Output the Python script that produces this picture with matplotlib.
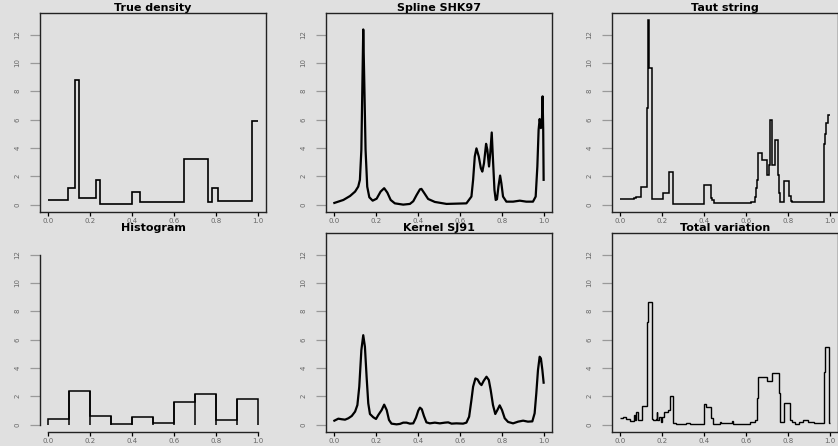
import numpy as np
import matplotlib
matplotlib.use('Agg')
import matplotlib.pyplot as plt

# ---- data ----
titles = ['True density', 'Spline SHK97', 'Taut string',
          'Histogram', 'Kernel SJ91', 'Total variation']

# true density: step function (edges, heights)
true_edges = [0.0, 0.096, 0.128, 0.147, 0.226, 0.249, 0.399, 0.439,
              0.648, 0.761, 0.780, 0.812, 0.973, 1.0]
true_vals = [0.33, 1.16, 8.82, 0.45, 1.77, 0.02, 0.87, 0.17,
             3.2, 0.17, 1.16, 0.24, 5.9]

# spline estimate
spl_x = [0.0, 0.043, 0.075, 0.099, 0.114, 0.122, 0.129, 0.134, 0.138, 0.143,
         0.149, 0.157, 0.167, 0.183, 0.202, 0.221, 0.238, 0.253, 0.269, 0.289,
         0.329, 0.361, 0.377, 0.393, 0.409, 0.416, 0.428, 0.448, 0.48, 0.536,
         0.631, 0.655, 0.663, 0.671, 0.679, 0.69, 0.70, 0.707, 0.715, 0.725,
         0.731, 0.739, 0.745, 0.752, 0.758, 0.765, 0.771, 0.777, 0.784, 0.792,
         0.798, 0.806, 0.822, 0.854, 0.886, 0.917, 0.949, 0.962, 0.970, 0.976,
         0.981, 0.987, 0.992, 0.995, 0.998, 1.0]
spl_y = [0.12, 0.33, 0.61, 0.92, 1.27, 1.75, 3.87, 8.6, 12.36, 8.6,
         3.9, 1.27, 0.52, 0.28, 0.42, 0.92, 1.16, 0.85, 0.33, 0.09,
         0.0, 0.05, 0.24, 0.68, 1.08, 1.11, 0.85, 0.4, 0.19, 0.05,
         0.09, 0.57, 1.75, 3.4, 3.97, 3.4, 2.57, 2.33, 2.92, 4.29,
         3.87, 2.69, 3.63, 5.09, 3.16, 1.04, 0.33, 0.38, 1.27, 2.05,
         1.51, 0.57, 0.21, 0.21, 0.28, 0.21, 0.21, 0.57, 2.69, 5.28,
         6.04, 5.4, 6.0, 7.64, 5.28, 1.75]

# taut string: step function
taut_edges = [0.0, 0.064, 0.077, 0.097, 0.128, 0.131, 0.134, 0.1375, 0.144,
              0.149, 0.152, 0.206, 0.212, 0.232, 0.252, 0.399, 0.402, 0.431,
              0.437, 0.447, 0.623, 0.641, 0.649, 0.653, 0.658, 0.679, 0.70,
              0.711, 0.717, 0.724, 0.740, 0.751, 0.757, 0.762, 0.783, 0.808,
              0.814, 0.820, 0.971, 0.976, 0.984, 0.990, 1.0]
taut_vals = [0.38, 0.5, 0.57, 1.23, 6.8, 9.65, 13.0, 9.65, 9.65,
             1.32, 0.38, 0.8, 0.85, 2.33, 0.07, 0.45, 1.39,
             0.47, 0.33, 0.12, 0.21, 0.57, 1.16, 1.75, 3.63, 3.16,
             2.1, 2.81, 5.94, 2.81, 4.58, 2.1, 0.85, 0.21, 1.67,
             0.61, 0.28, 0.19, 4.29, 4.98, 5.75, 6.34]

# histogram (bin width 0.1)
hist_edges = [0.0, 0.1, 0.2, 0.3, 0.4, 0.5, 0.6, 0.7, 0.8, 0.9, 1.0]
hist_vals = [0.42, 2.36, 0.64, 0.07, 0.54, 0.14, 1.63, 2.19, 0.33, 1.82]

# kernel estimate
ker_x = [0.0, 0.019, 0.035, 0.051, 0.067, 0.083, 0.099, 0.11, 0.119, 0.129,
         0.138, 0.146, 0.154, 0.162, 0.17, 0.186, 0.199, 0.21, 0.226, 0.238,
         0.25, 0.261, 0.273, 0.297, 0.313, 0.329, 0.345, 0.361, 0.377, 0.39,
         0.401, 0.409, 0.418, 0.428, 0.44, 0.456, 0.48, 0.504, 0.528, 0.544,
         0.56, 0.583, 0.615, 0.631, 0.644, 0.655, 0.663, 0.674, 0.684, 0.695,
         0.703, 0.714, 0.727, 0.738, 0.747, 0.758, 0.769, 0.779, 0.79, 0.801,
         0.814, 0.83, 0.854, 0.878, 0.902, 0.925, 0.946, 0.957, 0.965, 0.973,
         0.981, 0.987, 0.994, 1.0]
ker_y = [0.28, 0.42, 0.38, 0.35, 0.45, 0.61, 0.92, 1.38, 2.68, 5.26,
         6.31, 5.49, 3.38, 1.5, 0.75, 0.52, 0.4, 0.68, 1.03, 1.41,
         1.03, 0.33, 0.07, 0.02, 0.05, 0.14, 0.14, 0.07, 0.09, 0.49,
         0.99, 1.2, 1.08, 0.61, 0.16, 0.09, 0.14, 0.09, 0.14, 0.16,
         0.07, 0.09, 0.07, 0.14, 0.56, 1.74, 2.68, 3.26, 3.19, 2.91,
         2.79, 3.1, 3.38, 3.15, 2.44, 1.38, 0.75, 1.03, 1.36, 1.03,
         0.45, 0.19, 0.09, 0.21, 0.28, 0.21, 0.23, 0.8, 2.21, 3.85,
         4.79, 4.67, 3.85, 2.96]

# total variation: step function
tv_edges = [0.0, 0.013, 0.029, 0.045, 0.064, 0.069, 0.077, 0.085, 0.101,
            0.128, 0.133, 0.152, 0.157, 0.168, 0.173, 0.177, 0.184, 0.193,
            0.201, 0.208, 0.228, 0.236, 0.252, 0.268, 0.316, 0.332, 0.364,
            0.399, 0.409, 0.435, 0.444, 0.476, 0.479, 0.532, 0.537, 0.620,
            0.644, 0.652, 0.656, 0.701, 0.724, 0.756, 0.761, 0.764, 0.783,
            0.812, 0.820, 0.836, 0.852, 0.875, 0.899, 0.923, 0.955, 0.971,
            0.976, 0.982, 0.998, 1.002]
tv_vals = [0.45, 0.52, 0.42, 0.28, 0.68, 0.33, 0.87, 0.33,
           1.34, 7.25, 8.62, 0.38, 0.33, 0.38, 0.92, 0.33, 0.56,
           0.19, 0.56, 0.89, 1.03, 2.02, 0.09, 0.02, 0.14, 0.07,
           0.07, 1.43, 1.27, 0.49, 0.07, 0.19, 0.09, 0.26, 0.07,
           0.16, 0.33, 1.85, 3.38, 3.1, 3.66, 2.21, 0.56, 0.16,
           1.55, 0.33, 0.19, 0.07, 0.16, 0.33, 0.21, 0.14, 0.09,
           3.73, 5.45, 5.5, 0.14]

xticks = [0.0, 0.2, 0.4, 0.6, 0.8, 1.0]
xticklabels = ['0.0', '0.2', '0.4', '0.6', '0.8', '1.0']
yticks = [0, 2, 4, 6, 8, 10, 12]

bg = '#e0e0e0'
W, H = 838, 446
fig = plt.figure(figsize=(W / 100, H / 100), dpi=100, facecolor=bg)

axes = []
for r in range(2):
    for c in range(3):
        left = 40 + 286 * c
        top = 13 + 220 * r
        ax = fig.add_axes([left / W, 1 - (top + 199) / H, 226 / W, 199 / H])
        ax.set_facecolor(bg)
        ax.set_xlim(-0.04, 1.04)
        ax.set_ylim(-0.52, 13.52)
        ax.set_xticks(xticks)
        ax.set_xticklabels(xticklabels)
        ax.set_yticks(yticks)
        ax.set_yticklabels([str(v) for v in yticks], rotation=90, va='center')
        ax.tick_params(axis='x', length=3, width=0.9, color='black', pad=1,
                       labelsize=5, labelcolor='#666666')
        ax.tick_params(axis='y', length=7, width=0.9, color='#999999', pad=7,
                       labelsize=5, labelcolor='#666666')
        for s in ax.spines.values():
            s.set_color('#222222')
            s.set_linewidth(1.0)
        ax.set_title(titles[3 * r + c], fontsize=8, fontweight='bold', pad=1)
        axes.append(ax)

axes[0].stairs(true_vals, true_edges, color='black', lw=1.2, baseline=None)
axes[1].plot(spl_x, spl_y, color='black', lw=1.6)
axes[2].stairs(taut_vals, taut_edges, color='black', lw=1.1, baseline=None)
axes[3].stairs(hist_vals, hist_edges, color='black', lw=1.1, fill=False)
axes[3].vlines(hist_edges[1:-1], 0, np.maximum(hist_vals[:-1], hist_vals[1:]),
               color='black', lw=1.1)
axes[4].plot(ker_x, ker_y, color='black', lw=1.6)
axes[5].stairs(tv_vals, tv_edges, color='black', lw=1.0, baseline=None)

# histogram panel: R style axes only
hax = axes[3]
hax.spines['top'].set_visible(False)
hax.spines['right'].set_visible(False)
hax.spines['left'].set_bounds(0, 12)
hax.spines['bottom'].set_bounds(0, 1)

fig.savefig('out.png', dpi=100, facecolor=bg)
